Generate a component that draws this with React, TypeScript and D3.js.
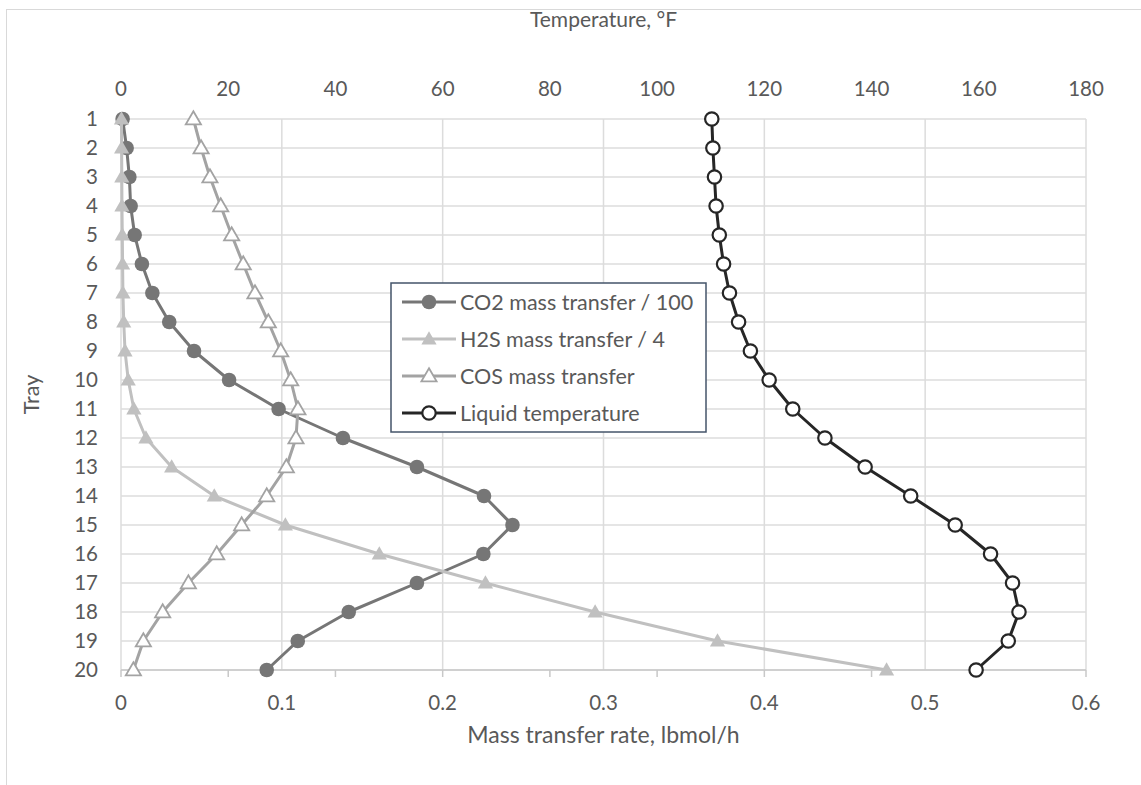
import React from "react";
import * as d3 from "d3";

// trays and series values
const trays = d3.range(1, 21);
const co2 = [0.001, 0.0035, 0.0052, 0.006, 0.0085, 0.013, 0.0195, 0.03, 0.0454, 0.0672, 0.098, 0.138, 0.184, 0.2257, 0.2434, 0.2253, 0.184, 0.1416, 0.1099, 0.0906];
const h2s = [0.0003, 0.0004, 0.0005, 0.0006, 0.0008, 0.001, 0.0012, 0.0017, 0.0025, 0.0045, 0.008, 0.0155, 0.0315, 0.058, 0.1022, 0.1606, 0.2266, 0.2948, 0.3709, 0.476];
const cos = [0.045, 0.0498, 0.0553, 0.062, 0.0688, 0.076, 0.0833, 0.0916, 0.0993, 0.1055, 0.11, 0.1088, 0.1028, 0.0906, 0.075, 0.0595, 0.0419, 0.0259, 0.0139, 0.0077];
const temp = [110.2, 110.4, 110.7, 111.0, 111.6, 112.4, 113.5, 115.2, 117.4, 120.9, 125.3, 131.3, 138.8, 147.3, 155.6, 162.2, 166.3, 167.5, 165.5, 159.5];

const massTicks = [0, 0.1, 0.2, 0.3, 0.4, 0.5, 0.6];
const tempTicks = [0, 20, 40, 60, 80, 100, 120, 140, 160, 180];

const legendItems = [
  { label: "CO2 mass transfer / 100", color: "#767676", marker: "dot" },
  { label: "H2S mass transfer / 4", color: "#c0c0c0", marker: "tri" },
  { label: "COS mass transfer", color: "#a3a3a3", marker: "hollowTri" },
  { label: "Liquid temperature", color: "#262626", marker: "hollowDot" },
];

const W = 1141;
const H = 785;
const left = 121;
const right = 1086;
const top = 119;
const bottom = 670;
const font = "Lato, 'Open Sans', sans-serif";
const textColor = "#595959";

const x = d3.scaleLinear().domain([0, 0.6]).range([left, right]);
const xT = d3.scaleLinear().domain([0, 180]).range([left, right]);
const y = d3.scaleLinear().domain([1, 20]).range([top, bottom]);

const triPath = d3.symbol().type(d3.symbolTriangle).size(100);

function Marker({ kind, color, cx, cy }) {
  if (kind === "dot") return <circle cx={cx} cy={cy} r={7.3} fill={color} />;
  if (kind === "hollowDot")
    return <circle cx={cx} cy={cy} r={6.7} fill="#fff" stroke={color} strokeWidth={2.2} />;
  if (kind === "tri")
    return <path d={triPath()} transform={`translate(${cx},${cy + 1})`} fill={color} />;
  return (
    <path d={triPath()} transform={`translate(${cx},${cy + 1})`} fill="#fff" stroke={color} strokeWidth={1.8} />
  );
}

export default function App() {
  const massLine = d3
    .line<number>()
    .x((d) => x(d))
    .y((d, i) => y(trays[i]));
  const tempLine = d3
    .line<number>()
    .x((d) => xT(d))
    .y((d, i) => y(trays[i]));

  const series = [
    { data: co2, line: massLine, sx: x, ...legendItems[0] },
    { data: h2s, line: massLine, sx: x, ...legendItems[1] },
    { data: cos, line: massLine, sx: x, ...legendItems[2] },
    { data: temp, line: tempLine, sx: xT, ...legendItems[3] },
  ];

  const lgX = 391;
  const lgY = 283;

  return (
    <svg
      width={W}
      height={H}
      style={{ position: "absolute", left: 0, top: 0, background: "#fff" }}
      fontFamily={font}
    >
      <rect x={6.5} y={9.5} width={W + 10} height={H + 10} fill="#fff" stroke="#d9d9d9" strokeWidth={1} />

      {/* gridlines */}
      {trays.map((t) => (
        <line key={"h" + t} x1={left} x2={right} y1={y(t)} y2={y(t)} stroke="#dcdcdc" strokeWidth={1.5} />
      ))}
      {massTicks.map((v) => (
        <line key={"v" + v} x1={x(v)} x2={x(v)} y1={top} y2={bottom} stroke="#dcdcdc" strokeWidth={1.5} />
      ))}

      {/* bottom axis line and ticks */}
      <line x1={left} x2={right} y1={bottom} y2={bottom} stroke="#c8c8c8" strokeWidth={1.5} />
      {tempTicks.map((v) => (
        <line key={"bt" + v} x1={xT(v)} x2={xT(v)} y1={bottom} y2={bottom + 7} stroke="#c8c8c8" strokeWidth={1.5} />
      ))}

      {/* tick labels */}
      {tempTicks.map((v) => (
        <text key={"tl" + v} x={xT(v)} y={95.5} textAnchor="middle" fontSize={20.5} fill={textColor}>
          {v}
        </text>
      ))}
      {massTicks.map((v) => (
        <text key={"ml" + v} x={x(v)} y={709.5} textAnchor="middle" fontSize={20.5} fill={textColor}>
          {v}
        </text>
      ))}
      {trays.map((t) => (
        <text key={"yl" + t} x={98} y={y(t) + 7} textAnchor="end" fontSize={20.5} fill={textColor}>
          {t}
        </text>
      ))}

      {/* axis titles */}
      <text x={(left + right) / 2} y={27} textAnchor="middle" fontSize={21} fill={textColor}>
        Temperature, °F
      </text>
      <text x={(left + right) / 2} y={743} textAnchor="middle" fontSize={23} fill={textColor}>
        Mass transfer rate, lbmol/h
      </text>
      <text
        transform={`translate(39,${(top + bottom) / 2}) rotate(-90)`}
        textAnchor="middle"
        fontSize={21.5}
        fill={textColor}
      >
        Tray
      </text>

      {/* series */}
      {series.map((s) => (
        <g key={s.label}>
          <path d={s.line(s.data)} fill="none" stroke={s.color} strokeWidth={3} strokeLinejoin="round" />
          {s.data.map((d, i) => (
            <Marker key={i} kind={s.marker} color={s.color} cx={s.sx(d)} cy={y(trays[i])} />
          ))}
        </g>
      ))}

      {/* legend */}
      <rect x={lgX} y={lgY} width={315} height={149} fill="#fff" stroke="#44546a" strokeWidth={1.5} />
      {legendItems.map((it, i) => {
        const ly = lgY + 19 + i * 37;
        return (
          <g key={it.label}>
            <line x1={lgX + 11} x2={lgX + 65} y1={ly} y2={ly} stroke={it.color} strokeWidth={3} />
            <Marker kind={it.marker} color={it.color} cx={lgX + 38} cy={ly} />
            <text x={lgX + 69} y={ly + 7.5} fontSize={21.5} fill={textColor}>
              {it.label}
            </text>
          </g>
        );
      })}
    </svg>
  );
}
